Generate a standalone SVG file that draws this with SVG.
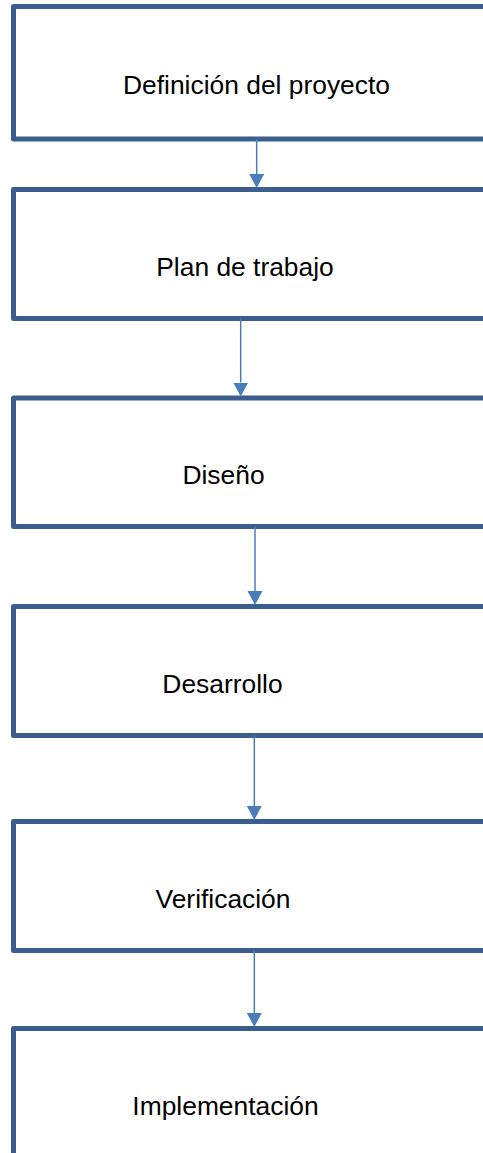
<svg xmlns="http://www.w3.org/2000/svg" width="483" height="1153" viewBox="0 0 483 1153">
  <style>
    .box { fill: #ffffff; stroke: #3a5f8e; stroke-width: 5; stroke-linejoin: round; }
    .label { font-family: "Liberation Sans", Arial, sans-serif; font-size: 26.4px; fill: #000000; text-anchor: middle; }
    .flow { stroke: #4a7ebb; stroke-width: 1.5; fill: none; }
  </style>
  <defs>
    <marker id="head" markerUnits="userSpaceOnUse" markerWidth="15" markerHeight="16" refX="0" refY="7.5" orient="auto" viewBox="0 0 15 15">
      <path d="M0,0 L14,7.5 L0,15 Z" fill="#4a7ebb"/>
    </marker>
  </defs>
  <rect width="483" height="1153" fill="#ffffff"/>

  <g id="node-definicion">
    <rect class="box" x="13.5" y="6.5" width="520" height="132.5"/>
    <text class="label" x="256.5" y="93.5">Definición del proyecto</text>
  </g>
  <g id="node-plan">
    <rect class="box" x="13.5" y="189.5" width="520" height="129"/>
    <text class="label" x="245" y="275.5">Plan de trabajo</text>
  </g>
  <g id="node-diseno">
    <rect class="box" x="13.5" y="398" width="520" height="128.5"/>
    <text class="label" x="223.5" y="484">Diseño</text>
  </g>
  <g id="node-desarrollo">
    <rect class="box" x="13.5" y="606.5" width="520" height="129"/>
    <text class="label" x="222.5" y="693">Desarrollo</text>
  </g>
  <g id="node-verificacion">
    <rect class="box" x="13.5" y="821.5" width="520" height="129"/>
    <text class="label" x="223" y="908">Verificación</text>
  </g>
  <g id="node-implementacion">
    <rect class="box" x="13.5" y="1028.5" width="520" height="132"/>
    <text class="label" x="225.5" y="1115">Implementación</text>
  </g>

  <g id="connectors">
    <line class="flow" x1="256.7" y1="139" x2="256.7" y2="174" marker-end="url(#head)"/>
    <line class="flow" x1="240.7" y1="318.5" x2="240.7" y2="382.5" marker-end="url(#head)"/>
    <line class="flow" x1="255" y1="526.5" x2="255" y2="591" marker-end="url(#head)"/>
    <line class="flow" x1="254.3" y1="735.5" x2="254.3" y2="806" marker-end="url(#head)"/>
    <line class="flow" x1="254.3" y1="950.5" x2="254.3" y2="1013" marker-end="url(#head)"/>
  </g>
</svg>
